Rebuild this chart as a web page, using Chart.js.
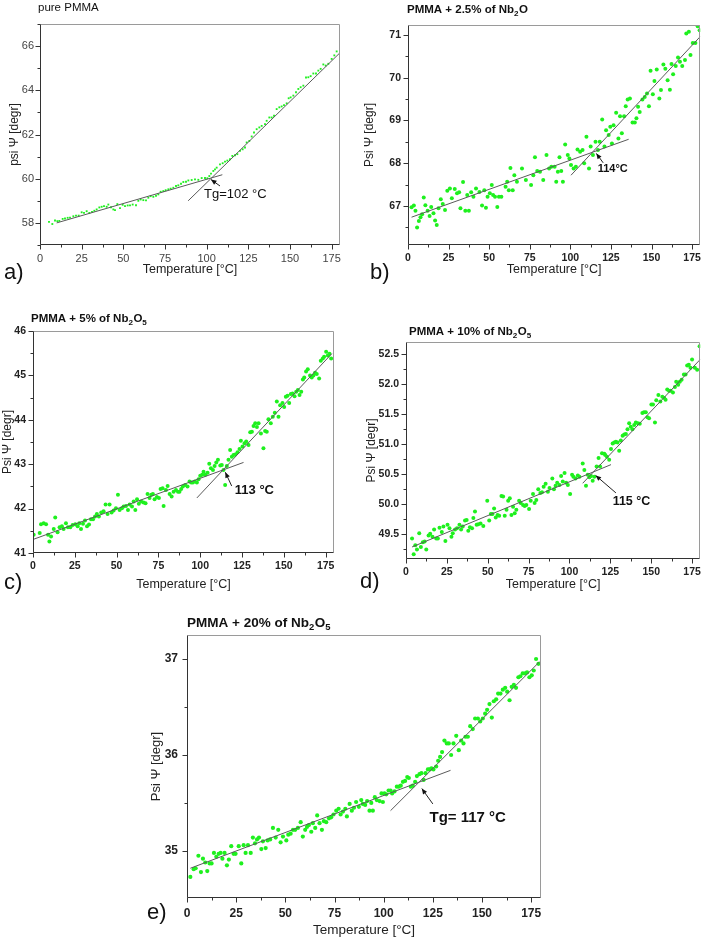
<!DOCTYPE html>
<html>
<head>
<meta charset="utf-8">
<script src="https://cdn.jsdelivr.net/npm/chart.js@4.4.1/dist/chart.umd.min.js"></script>
<style>
  body{margin:0;background:#fff;width:708px;height:938px;position:relative;overflow:hidden}
  canvas{position:absolute}
</style>
</head>
<body>
<script>
// Temperatura [°C] vs psi [degr]

const xTicks = [0, 25, 50, 75, 100, 125, 150, 175];

// a) pure PMMA
const yTicksA = [58, 60, 62, 64, 66];
const dotsA = [[5.4,58.05],[7.4,57.95],[9,58.11],[10.4,58.08],[11.6,58.09],[13.6,58.18],[15,58.2],[16.6,58.23],[18,58.24],[20,58.3],[21.6,58.33],[23.2,58.33],[25,58.48],[26.4,58.45],[28,58.53],[29.6,58.45],[31.2,58.5],[32.6,58.55],[34,58.61],[35.6,58.7],[37,58.73],[38.4,58.76],[40,58.73],[41,58.83],[42.6,58.71],[44,58.61],[45,58.58],[46.4,58.85],[48,58.67],[49.6,58.82],[51,58.76],[52.6,58.79],[54,58.79],[55.6,58.83],[57.6,58.8],[59,59],[60.4,59.06],[62,59.03],[63.6,59.02],[65,59.14],[66.4,59.21],[68,59.18],[69.6,59.23],[71,59.29],[72.4,59.41],[74,59.44],[75.4,59.48],[77,59.52],[78.4,59.55],[80,59.59],[81.6,59.67],[83,59.7],[84.6,59.77],[86,59.85],[87.6,59.86],[89,59.92],[91,59.94],[93,59.97],[95,59.95],[97,60.03],[99,60.03],[100.4,60.02],[101.6,60.12],[102.6,60.23],[104,60.35],[105,60.42],[106,60.5],[108,60.65],[109.6,60.7],[111,60.77],[112.4,60.82],[114,60.88],[115.4,61.03],[117,61.06],[118.4,61.11],[120,61.26],[121.6,61.33],[123,61.41],[124,61.64],[125.6,61.71],[127,61.91],[128.4,62.09],[130,62.24],[131.6,62.32],[133,62.39],[135,62.47],[136,62.62],[137.6,62.77],[139,62.77],[140.4,62.85],[142,63.15],[143.6,63.23],[145,63.27],[146.4,63.33],[148,63.41],[149.2,63.64],[150.4,63.68],[152,63.76],[153.6,63.91],[155,64.06],[156.4,64.14],[158,64.21],[159.6,64.58],[161,64.59],[162.4,64.64],[164,64.76],[165.6,64.76],[167,64.89],[168.4,64.97],[170,65.17],[171.4,65.12],[173,65.2],[175,65.42],[176.6,65.58],[178,65.76]];
const fitA1 = [[10,58.0],[109.4,60.18]];
const fitA2 = [[88.9,59.0],[180,65.7]];

// b) PMMA + 2.5% of Nb2O
const yTicksB = [67, 68, 69, 70, 71];
const dotsB = [[2.2,66.97],[3.6,67.01],[4.6,66.89],[5.6,66.5],[6.7,66.65],[7.7,66.74],[8.7,66.81],[9.7,67.2],[10.7,67.02],[12.1,66.89],[13.3,66.77],[14.3,66.98],[15.7,66.83],[16.7,66.66],[17.7,66.56],[18.8,66.95],[20.2,67.16],[21.4,67.05],[22.8,66.91],[24.2,67.36],[25.8,67.41],[27,67.18],[28.8,67.4],[30.2,67.3],[31.5,67.32],[32.3,66.95],[33.9,67.56],[35.3,66.89],[36.5,67.26],[37.5,66.89],[38.9,67.32],[40.3,67.22],[41.9,67.41],[44,67.33],[45.6,67.01],[47,67.37],[48,66.96],[49,67.22],[50.4,67.3],[51.6,67.49],[52.4,67.26],[53.6,67.22],[55,66.98],[56,67.22],[57.5,67.22],[60.1,67.45],[61.1,67.57],[62.1,67.37],[63.1,67.89],[64.5,67.37],[65.5,67.72],[67.1,67.57],[70.2,67.88],[72.6,67.61],[75.8,67.49],[77.2,67.72],[78.2,68.14],[79.6,67.82],[81.3,67.8],[83.3,67.61],[85.3,68.19],[86.9,67.88],[88.3,67.92],[90.3,67.92],[91.3,67.57],[92.3,67.8],[93.3,68.14],[94.4,67.82],[95.4,67.57],[96.8,68.44],[98.4,68.19],[99.4,68.11],[100.4,67.96],[102,67.88],[103.4,67.92],[104.4,68.32],[106,68.27],[107.5,68.31],[108.5,68.0],[109.9,68.62],[111.5,67.88],[112.5,68.39],[113.9,68.19],[115.5,68.5],[117,68.31],[118.1,68.5],[119.6,69.02],[121,68.39],[122,68.77],[123.6,68.66],[124.6,68.85],[125.6,68.46],[126.6,68.89],[128.2,69.18],[129.6,68.58],[130.6,69.1],[131.7,68.7],[133.1,69.1],[134.1,69.33],[135.3,69.49],[136.7,69.51],[138.3,68.95],[139.7,68.95],[140.7,69.05],[141.7,69.32],[142.7,69.2],[144.4,69.49],[145.8,69.55],[147.2,69.63],[148.4,69.33],[149.4,70.16],[150.8,69.61],[151.8,69.92],[153.2,70.19],[154.8,69.51],[155.8,69.71],[157.3,70.31],[158.5,70.21],[159.9,69.94],[161.3,69.72],[162.3,70.32],[163.3,70.08],[164.9,70.27],[166.3,70.47],[167.5,70.37],[168.9,70.27],[170.6,70.41],[171.4,71.03],[173,71.07],[174,70.53],[175.4,70.81],[177,70.81],[178.4,71.2],[179.6,71.11]];
const fitB1 = [[2.2,66.74],[135.9,68.56]];
const fitB2 = [[100.4,67.72],[180,70.96]];

// c) PMMA + 5% of Nb2O5
const yTicksC = [41, 42, 43, 44, 45, 46];
const dotsC = [[0.4,41.41],[4,41.45],[4.8,41.65],[6.4,41.67],[7.8,41.65],[9,41.41],[9.8,41.26],[10.8,41.37],[12.4,41.54],[13.3,41.8],[14.7,41.47],[15.9,41.58],[17.3,41.6],[18.3,41.54],[19.7,41.67],[20.9,41.58],[22.3,41.58],[23.7,41.63],[25.3,41.65],[26.7,41.6],[27.7,41.67],[28.7,41.54],[29.9,41.66],[31.1,41.73],[32.3,41.6],[33.5,41.64],[34.7,41.76],[35.9,41.76],[37.1,41.82],[38.2,41.88],[39.4,41.82],[40.8,41.91],[42.2,41.94],[43.4,42.09],[44.6,41.88],[45.8,42.09],[47,41.91],[48.2,41.96],[49.6,42.01],[50.8,42.31],[51.8,41.97],[53.2,42.01],[54.2,42.05],[55.6,42.06],[56.8,41.97],[57.8,42.09],[59.2,42.05],[60.2,42.16],[61.2,41.97],[62.2,42.21],[63.3,42.11],[64.7,42.16],[66.1,42.14],[67.3,42.12],[68.5,42.33],[69.7,42.24],[70.7,42.31],[71.7,42.33],[72.7,42.21],[74.1,42.26],[75.3,42.24],[76.3,42.44],[77.5,42.46],[78.1,42.06],[79.5,42.42],[80.5,42.51],[81.7,42.33],[82.9,42.27],[84.1,42.38],[85.5,42.42],[86.7,42.38],[87.6,42.38],[88.6,42.44],[89.6,42.5],[91,42.53],[92.4,42.5],[93.6,42.61],[94.6,42.59],[95.6,42.59],[96.8,42.61],[98,42.59],[99,42.66],[100,42.74],[101.2,42.76],[102,42.83],[103,42.76],[104.4,42.81],[105.4,43.01],[106.4,42.91],[107.6,42.87],[108.6,42.96],[109.6,43.04],[110.6,43.1],[112,42.97],[112.9,42.98],[113.9,42.87],[114.9,42.53],[115.9,42.96],[116.9,43.1],[117.9,43.32],[118.9,43.17],[119.9,43.21],[120.9,43.22],[122.3,43.27],[123.5,43.34],[124.3,43.53],[125.3,43.4],[126.5,43.47],[127.5,43.51],[128.9,43.43],[129.9,43.72],[130.9,43.73],[131.9,43.86],[132.9,43.92],[133.9,43.84],[134.9,43.92],[136.3,43.69],[137.8,43.36],[138.8,43.75],[139.8,43.73],[140.8,44.01],[142.2,43.92],[143.4,44.07],[144.6,44.16],[145.8,44.41],[146.8,44.07],[147.8,44.33],[149.2,44.38],[150.2,44.29],[151.2,44.52],[152.2,44.54],[153.2,44.38],[154.2,44.58],[155.2,44.59],[156.4,44.53],[157.4,44.63],[158.4,44.67],[159.4,44.56],[160.4,44.63],[161.4,44.91],[162.2,44.95],[163.3,45.09],[164.3,45.14],[165.7,45.0],[166.7,44.95],[167.7,45.0],[168.7,45.06],[169.7,45.03],[171.1,44.93],[172.1,45.33],[173.3,45.38],[174.1,45.42],[175.3,45.53],[176.3,45.45],[177.3,45.49],[178.3,45.38]];
const fitC1 = [[0.4,41.31],[125.9,43.04]];
const fitC2 = [[98,42.24],[178.7,45.49]];

// d) PMMA + 10% of Nb2O5
const yTicksD = [49.5, 50.0, 50.5, 51.0, 51.5, 52.0, 52.5];
const dotsD = [[3.7,49.43],[4.7,49.17],[5.7,49.32],[6.7,49.25],[8.1,49.52],[9.1,49.29],[10.3,49.37],[11.4,49.38],[12.4,49.25],[13.8,49.48],[14.8,49.51],[16.2,49.46],[17.2,49.58],[18.5,49.43],[19.5,49.43],[20.5,49.61],[21.9,49.54],[22.9,49.63],[24.1,49.39],[25.4,49.66],[26.6,49.6],[27.8,49.46],[28.6,49.52],[30,49.58],[31.2,49.6],[32.7,49.66],[33.7,49.58],[34.7,49.63],[36.1,49.73],[37.1,49.74],[38.1,49.56],[39.1,49.62],[40.4,49.6],[41.2,49.77],[42.2,49.88],[43.2,49.66],[44.2,49.67],[45.6,49.68],[47.3,49.64],[49.7,50.06],[50.9,49.73],[51.9,49.84],[52.9,49.84],[53.9,49.93],[54.9,49.78],[56,49.82],[57,49.81],[58.4,50.14],[59.4,50.13],[60.4,49.81],[61.5,49.91],[62.5,50.06],[63.5,50.1],[64.5,49.82],[65.5,49.96],[66.5,49.85],[67.5,49.91],[69.2,50.06],[70.2,50.02],[71.6,49.99],[72.6,49.97],[73.6,49.99],[75.3,49.92],[76.3,50.06],[77.7,50.17],[78.7,50.02],[79.7,50.07],[80.9,50.25],[82.2,50.19],[83.2,50.2],[84.2,50.29],[85.4,50.34],[86.8,50.21],[87.8,50.27],[89.5,50.43],[90.5,50.25],[91.5,50.31],[92.5,50.36],[93.9,50.32],[94.9,50.47],[95.9,50.38],[97,50.52],[98,50.36],[99,50.32],[100.4,50.17],[101.6,50.49],[102.4,50.46],[103.7,50.43],[105.1,50.48],[106.1,50.46],[108.1,50.68],[109.1,50.57],[110.1,50.31],[111.2,50.49],[112.2,50.45],[113.2,50.47],[114.2,50.39],[115.2,50.46],[116.6,50.63],[117.8,50.77],[118.7,50.63],[119.9,50.85],[121.3,50.84],[121.9,50.82],[122.9,50.79],[124.3,50.74],[125.4,50.92],[126.4,51.01],[127.4,51.03],[128.4,51.04],[129.4,51.03],[130.4,50.89],[131.4,51.06],[132.5,51.14],[133.5,51.16],[134.5,51.17],[135.5,51.25],[136.5,51.35],[137.5,51.29],[138.5,51.25],[139.6,51.32],[140.6,51.36],[141.8,51.35],[143,51.34],[144.6,51.52],[145.6,51.53],[146.7,51.53],[147.7,51.45],[148.7,51.43],[150.1,51.66],[151.1,51.66],[152.3,51.36],[153.1,51.73],[154.4,51.82],[155.6,51.71],[156.8,51.79],[158,51.77],[158.8,51.74],[159.8,51.91],[160.9,51.89],[161.9,51.89],[163.3,51.86],[164.5,51.95],[165.3,52.04],[166.5,51.99],[167.5,52.04],[168.6,52.07],[170,52.16],[171,52.16],[172,52.31],[173,52.32],[174,52.27],[175,52.41],[176.7,52.27],[178.1,52.24],[179.6,52.63]];
const fitD1 = [[3.7,49.29],[125.4,50.66]];
const fitD2 = [[108.1,50.35],[180,52.41]];

// e) PMMA + 20% of Nb2O5
const yTicksE = [35, 36, 37];
const dotsE = [[1.7,34.73],[3.4,34.81],[4.4,34.82],[5.8,34.95],[7.1,34.78],[8.1,34.92],[9.3,34.88],[10.3,34.79],[11.5,34.87],[12.5,34.87],[13.7,34.98],[14.9,34.94],[16.1,34.97],[17.1,34.98],[18,34.92],[19.1,34.98],[20.3,34.85],[21.3,34.91],[22.5,35.05],[23.7,34.97],[24.7,34.97],[26.3,35.05],[27.6,34.87],[28.8,35.06],[29.8,34.98],[31,35.06],[32.4,34.98],[33.5,35.14],[34.6,35.08],[35.6,35.12],[36.6,35.14],[37.8,35.02],[38.6,35.1],[40,35.03],[41,35.11],[42.3,35.12],[43.7,35.24],[45.1,35.14],[46.4,35.22],[47.6,35.09],[48.8,35.15],[50.5,35.11],[51.5,35.17],[52.7,35.18],[53.9,35.22],[55,35.22],[56.4,35.24],[57.8,35.3],[58.9,35.15],[60.1,35.22],[61,35.25],[62,35.27],[63.2,35.2],[64,35.29],[65.2,35.24],[66.2,35.37],[67.4,35.29],[68.6,35.22],[69.6,35.31],[70.8,35.3],[72.2,35.34],[73.3,35.35],[74.5,35.38],[75.9,35.42],[77.1,35.44],[78.1,35.38],[79.3,35.41],[80.5,35.44],[81.3,35.36],[82.7,35.49],[83.8,35.42],[84.9,35.45],[86,35.51],[87.4,35.46],[88.6,35.53],[89.4,35.49],[90.6,35.48],[91.6,35.52],[92.8,35.42],[93.7,35.5],[94.5,35.42],[95.5,35.56],[96.5,35.53],[97.9,35.52],[98.9,35.6],[99.6,35.51],[100.4,35.6],[101.3,35.59],[102.5,35.63],[103.5,35.63],[104.3,35.6],[105.5,35.62],[106.7,35.67],[107.7,35.67],[108.7,35.68],[109.8,35.72],[110.9,35.73],[112,35.77],[112.8,35.76],[113.8,35.67],[114.8,35.68],[116,35.72],[116.9,35.78],[118.2,35.8],[119.2,35.81],[120.3,35.74],[121.3,35.81],[122.5,35.85],[123.3,35.85],[124.3,35.86],[125.3,35.85],[126.7,35.88],[127.7,35.94],[128.7,35.98],[129.7,36.03],[130.9,36.15],[132.1,36.12],[133.1,36.12],[134.3,36.0],[135.5,36.12],[136.9,36.2],[138.2,36.05],[139.4,36.15],[140.6,36.12],[141.6,36.19],[142.8,36.19],[144,36.3],[145.3,36.27],[146.5,36.38],[147.9,36.38],[149.1,36.35],[150.4,36.38],[151.6,36.43],[152.6,36.47],[153.8,36.53],[155,36.39],[156,36.56],[157.2,36.58],[158.2,36.64],[159.4,36.64],[160.6,36.68],[161.8,36.7],[162.8,36.66],[164,36.57],[165.1,36.71],[166.2,36.73],[167.3,36.7],[168.5,36.81],[169.5,36.82],[170.7,36.85],[171.9,36.85],[172.9,36.86],[174.1,36.81],[175.3,36.83],[176.3,36.88],[177.5,37.0],[178.7,36.95]];
const fitE1 = [[1.7,34.82],[134,35.84]];
const fitE2 = [[103.5,35.42],[179.2,36.97]];

const FONT = '"Liberation Sans", Arial, sans-serif';
const GREEN = '#1ef01e';

// Config de cada panel: caja del canvas y area de trazado (px de pagina)
const panels = [
  { box:[0,0,354,290], plot:[40,24,340,245], yMin:57, yMax:67, yTicks:yTicksA, yMinor:1, dec:0,
    dots:dotsA, fits:[fitA1,fitA2], dotStyle:'rect', dotR:1.3,
    tickFont:{size:11, weight:'normal'}, tickColor:'#444', yPad:6, xPad:7,
    yTitle:'psi \u03A8 [degr]', yTitleSize:12, yTitlePad:7, xTitleSize:12.5, xTitlePad:12.5,
    title:[['pure PMMA',0]], titleX:38, titleY:8, titleSize:11.5, titleBold:false,
    letter:'a)', letterX:4, letterY:273,
    note:{text:'Tg=102 \u00B0C', size:13, bold:false, tx:98.4, ty:59.29, a0:[108,59.67], a1:[102.6,59.96]} },
  { box:[354,0,354,290], plot:[408,25,706,245], yMin:66.09, yMax:71.23, yTicks:yTicksB, yMinor:0.5, dec:0,
    dots:dotsB, fits:[fitB1,fitB2], dotStyle:'circle', dotR:2,
    tickFont:{size:10.5, weight:'bold'}, tickColor:'#222', yPad:7, xPad:7,
    yTitle:'Psi \u03A8 [degr]', yTitleSize:12, yTitlePad:8, xTitleSize:12.5, xTitlePad:12.5,
    title:[['PMMA + 2.5% of Nb',0],['2',1],['O',0]], titleX:407, titleY:10, titleSize:11.5, titleBold:true,
    letter:'b)', letterX:370, letterY:273,
    note:{text:'114\u00B0C', size:11, bold:true, tx:116.8, ty:67.86, a0:[120.2,68.01], a1:[116,68.23]} },
  { box:[0,290,354,310], plot:[33,331,334,553], yMin:41, yMax:46, yTicks:yTicksC, yMinor:0.5, dec:0,
    dots:dotsC, fits:[fitC1,fitC2], dotStyle:'circle', dotR:2,
    tickFont:{size:10.5, weight:'bold'}, tickColor:'#222', yPad:7, xPad:7,
    yTitle:'Psi \u03A8 [degr]', yTitleSize:12, yTitlePad:0, xTitleSize:12.5, xTitlePad:7.5,
    title:[['PMMA + 5% of Nb',0],['2',1],['O',0],['5',1]], titleX:31, titleY:319, titleSize:11.5, titleBold:true,
    letter:'c)', letterX:4, letterY:583,
    note:{text:'113 \u00B0C', size:13, bold:true, tx:120.7, ty:42.42, a0:[118.8,42.51], a1:[115,42.82]} },
  { box:[354,290,354,310], plot:[406,342,702,559], yMin:49.09, yMax:52.7, yTicks:yTicksD, yMinor:0.25, dec:1,
    dots:dotsD, fits:[fitD1,fitD2], dotStyle:'circle', dotR:2,
    tickFont:{size:10.5, weight:'bold'}, tickColor:'#222', yPad:7, xPad:7,
    yTitle:'Psi \u03A8 [degr]', yTitleSize:12, yTitlePad:10, xTitleSize:12.5, xTitlePad:7.5,
    title:[['PMMA + 10% of Nb',0],['2',1],['O',0],['5',1]], titleX:409, titleY:332, titleSize:11.5, titleBold:true,
    letter:'d)', letterX:360, letterY:582,
    note:{text:'115 \u00B0C', size:12.5, bold:true, tx:126.4, ty:50.04, a0:[128.4,50.19], a1:[116,50.48]} },
  { box:[130,600,430,338], plot:[187,635,541,898], yMin:34.51, yMax:37.25, yTicks:yTicksE, yMinor:0.5, dec:0,
    dots:dotsE, fits:[fitE1,fitE2], dotStyle:'circle', dotR:2.1,
    tickFont:{size:12, weight:'bold'}, tickColor:'#222', yPad:9, xPad:8,
    yTitle:'Psi \u03A8 [degr]', yTitleSize:13, yTitlePad:19, xTitleSize:13.5, xTitlePad:0,
    title:[['PMMA + 20% of Nb',0],['2',1],['O',0],['5',1]], titleX:187, titleY:623, titleSize:13.5, titleBold:true,
    letter:'e)', letterX:147, letterY:913,
    note:{text:'Tg= 117 \u00B0C', size:15, bold:true, tx:123.3, ty:35.35, a0:[125,35.49], a1:[119.4,35.65]} }
];

function decorPlugin(p){
  const [bx, by] = p.box;
  return {
    id:'decor',
    afterDatasetsDraw(chart){
      const {ctx, chartArea:a, scales:{x, y}} = chart;
      const L = Math.round(a.left)+0.5, R = Math.round(a.right)-0.5;
      const T = Math.round(a.top)+0.5, B = Math.round(a.bottom)-0.5;
      ctx.save();
      ctx.lineWidth = 1;
      // marco: arriba y derecha gris claro
      ctx.strokeStyle = '#9a9a9a';
      ctx.beginPath(); ctx.moveTo(L,T); ctx.lineTo(R,T); ctx.lineTo(R,B); ctx.stroke();
      // ejes izquierdo e inferior
      ctx.strokeStyle = '#333';
      ctx.beginPath(); ctx.moveTo(L,T); ctx.lineTo(L,B); ctx.lineTo(R,B); ctx.stroke();
      // ticks mayores y menores (hacia afuera)
      ctx.beginPath();
      for(let v=0; v<=180+1e-6; v+=12.5){
        const px = Math.round(x.getPixelForValue(v))+0.5;
        const len = xTicks.includes(v) ? 5 : 3;
        ctx.moveTo(px,B); ctx.lineTo(px,B+len);
      }
      const st = p.yMinor;
      for(let k=Math.ceil(p.yMin/st-1e-6); k*st<=p.yMax+1e-6; k++){
        const v = k*st;
        const py = Math.round(y.getPixelForValue(v))+0.5;
        const major = p.yTicks.some(t=>Math.abs(t-v)<1e-6);
        ctx.moveTo(L,py); ctx.lineTo(L-(major?5:3),py);
      }
      ctx.stroke();

      // titulo del panel (con subindices)
      ctx.fillStyle = '#111';
      ctx.textBaseline = 'middle';
      ctx.textAlign = 'left';
      let tx = p.titleX - bx;
      const w = p.titleBold ? 'bold ' : '';
      p.title.forEach(([s, sub])=>{
        const size = sub ? p.titleSize*0.7 : p.titleSize;
        ctx.font = `${w}${size}px ${FONT}`;
        ctx.fillText(s, tx, p.titleY - by + (sub ? p.titleSize*0.32 : 0));
        tx += ctx.measureText(s).width + (sub ? 0.5 : 0);
      });

      // letra del panel
      ctx.font = `22px ${FONT}`;
      ctx.fillText(p.letter, p.letterX - bx, p.letterY - by);

      // anotacion Tg con flecha
      const n = p.note;
      ctx.font = `${n.bold?'bold ':''}${n.size}px ${FONT}`;
      ctx.fillText(n.text, x.getPixelForValue(n.tx), y.getPixelForValue(n.ty));
      const x0 = x.getPixelForValue(n.a0[0]), y0 = y.getPixelForValue(n.a0[1]);
      const x1 = x.getPixelForValue(n.a1[0]), y1 = y.getPixelForValue(n.a1[1]);
      ctx.strokeStyle = '#222';
      ctx.beginPath(); ctx.moveTo(x0,y0); ctx.lineTo(x1,y1); ctx.stroke();
      const ang = Math.atan2(y1-y0, x1-x0), hl = 5.5, hw = 2.4;
      ctx.beginPath();
      ctx.moveTo(x1,y1);
      ctx.lineTo(x1 - hl*Math.cos(ang) + hw*Math.sin(ang), y1 - hl*Math.sin(ang) - hw*Math.cos(ang));
      ctx.lineTo(x1 - hl*Math.cos(ang) - hw*Math.sin(ang), y1 - hl*Math.sin(ang) + hw*Math.cos(ang));
      ctx.closePath(); ctx.fill();
      ctx.restore();
    }
  };
}

panels.forEach(p=>{
  const [bx, by, bw, bh] = p.box;
  const [pl, pt, pr, pb] = p.plot;
  const cv = document.createElement('canvas');
  cv.width = bw; cv.height = bh;
  cv.style.left = bx+'px'; cv.style.top = by+'px';
  cv.style.width = bw+'px'; cv.style.height = bh+'px';
  document.body.appendChild(cv);

  const tickFont = {family:FONT, size:p.tickFont.size, weight:p.tickFont.weight};
  const datasets = p.fits.map(f=>({
    data: f.map(([x,y])=>({x,y})), showLine:true, pointRadius:0,
    borderColor:'#5a5a5a', borderWidth:1, fill:false
  }));
  datasets.push({
    data: p.dots.map(([x,y])=>({x,y})),
    pointStyle:p.dotStyle, pointRadius:p.dotR, backgroundColor:GREEN, borderWidth:0
  });

  new Chart(cv, {
    type:'scatter',
    data:{ datasets },
    options:{
      responsive:false, animation:false, devicePixelRatio:1,
      layout:{ padding:{ top:pt-by, right:bx+bw-pr, left:0, bottom:0 } },
      plugins:{ legend:{display:false}, tooltip:{enabled:false} },
      scales:{
        x:{
          type:'linear', min:0, max:180,
          afterBuildTicks:s=>{ s.ticks = xTicks.map(v=>({value:v})); },
          afterFit:s=>{ s.height = by+bh-pb; },
          grid:{display:false, drawTicks:false}, border:{display:false},
          ticks:{ font:tickFont, color:p.tickColor, padding:p.xPad, maxRotation:0, minRotation:0, autoSkip:false,
                  callback:v=>String(v) },
          title:{ display:true, text:'Temperature [\u00B0C]', color:'#222',
                  font:{family:FONT, size:p.xTitleSize}, padding:{top:0, bottom:p.xTitlePad} }
        },
        y:{
          type:'linear', min:p.yMin, max:p.yMax,
          afterBuildTicks:s=>{ s.ticks = p.yTicks.map(v=>({value:v})); },
          afterFit:s=>{ s.width = pl-bx; },
          grid:{display:false, drawTicks:false}, border:{display:false},
          ticks:{ font:tickFont, color:p.tickColor, padding:p.yPad, autoSkip:false,
                  callback:v=>Number(v).toFixed(p.dec) },
          title:{ display:true, text:p.yTitle, color:'#222',
                  font:{family:FONT, size:p.yTitleSize}, padding:{top:p.yTitlePad, bottom:0} }
        }
      }
    },
    plugins:[decorPlugin(p)]
  });
});
</script>
</body>
</html>
